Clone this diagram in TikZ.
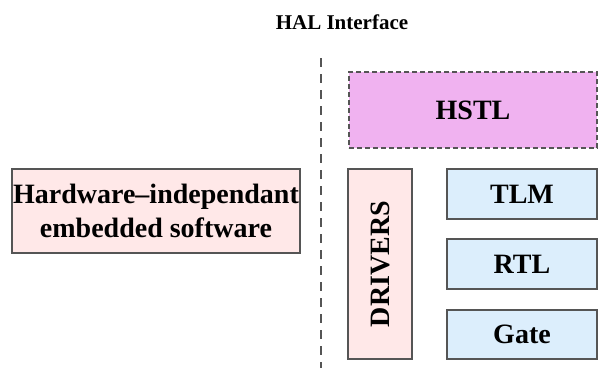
\documentclass[tikz,border=0pt]{standalone}
\usepackage{fontspec}
\setmainfont{Liberation Serif}
\definecolor{edgegray}{HTML}{555555}
\definecolor{swpink}{HTML}{FFE8E8}
\definecolor{hstlpink}{HTML}{F0B2F0}
\definecolor{levelblue}{HTML}{DCEEFC}
\tikzset{
  blockfont/.style={font=\fontsize{28}{34}\selectfont\bfseries},
  block/.style={draw=edgegray, line width=1.3pt, inner sep=0pt, align=center, blockfont},
  swblock/.style={block, fill=swpink},
  levelblock/.style={block, fill=levelblue, minimum width=150pt, minimum height=50pt},
}
\begin{document}
\begin{tikzpicture}[x=1pt, y=-1pt]
  \useasboundingbox (0,0) rectangle (598,368);
  % title
  \node[font=\fontsize{21}{25}\selectfont\bfseries] (title) at (342,22) {HAL Interface};
  % interface boundary
  \coordinate (ifTop) at (321,58);
  \coordinate (ifBot) at (321,368);
  \draw[edgegray, line width=2pt, dash pattern=on 9pt off 7pt] (ifTop) -- (ifBot);
  % software side
  \node[swblock, minimum width=288pt, minimum height=84pt] (sw) at (156,211)
    {Hardware--independant\\embedded software};
  % hardware side
  \node[block, fill=hstlpink, dash pattern=on 5pt off 3pt, line width=1.1pt,
    minimum width=248pt, minimum height=76pt] (hstl) at (473,110) {HSTL};
  \node[swblock, minimum width=64pt, minimum height=190pt] (drv) at (380,264) {};
  \node[blockfont, rotate=90] (drvlabel) at (drv.center) {DRIVERS};
  \node[levelblock] (tlm) at (522,194) {TLM};
  \node[levelblock] (rtl) at (522,264) {RTL};
  \node[levelblock, minimum height=49pt] (gate) at (522,334.5) {Gate};
\end{tikzpicture}
\end{document}
